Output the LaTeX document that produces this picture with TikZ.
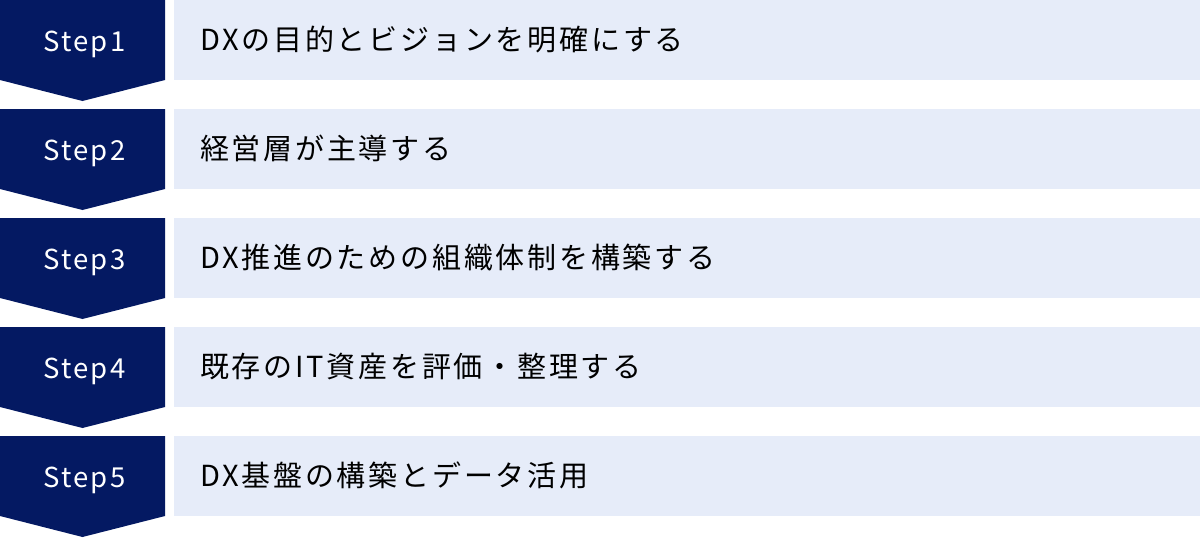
\documentclass[tikz,border=0pt]{standalone}
\usepackage{fontspec}
\setmainfont{Noto Sans CJK JP}[LetterSpace=9.5]
\newfontfamily\steplabelfont{Noto Sans CJK JP}[LetterSpace=8]
\definecolor{navy}{HTML}{041962}
\definecolor{paleblue}{HTML}{E6ECF9}
\tikzset{
  chev/.style={fill=navy, draw=none},
  textbox/.style={fill=paleblue, draw=none},
  steplabel/.style={text=white, font=\steplabelfont\fontsize{27.5}{30}\selectfont, inner sep=0pt, anchor=base},
  desc/.style={text=black, font=\fontsize{29}{32}\selectfont, inner sep=0pt, anchor=base west},
}
\begin{document}
\begin{tikzpicture}[x=1pt,y=-1pt]
\useasboundingbox (0,0) rectangle (1200,538);
\foreach \i/\t in {1/DXの目的とビジョンを明確にする,2/経営層が主導する,3/DX推進のための組織体制を構築する,4/既存のIT資産を評価・整理する,5/DX基盤の構築とデータ活用}{
  \pgfmathsetmacro{\yo}{109*(\i-1)}
  \fill[chev] (0,\yo) -- (165,\yo) -- (165,\yo+80) -- (82.5,\yo+101) -- (0,\yo+80) -- cycle;
  \fill[textbox] (174,\yo) rectangle (1200,\yo+80);
  \node[steplabel] (s\i) at (84.5,\yo+51) {Step\i};
  \node[desc] (d\i) at (200,\yo+50) {\t};
}
\end{tikzpicture}
\end{document}
